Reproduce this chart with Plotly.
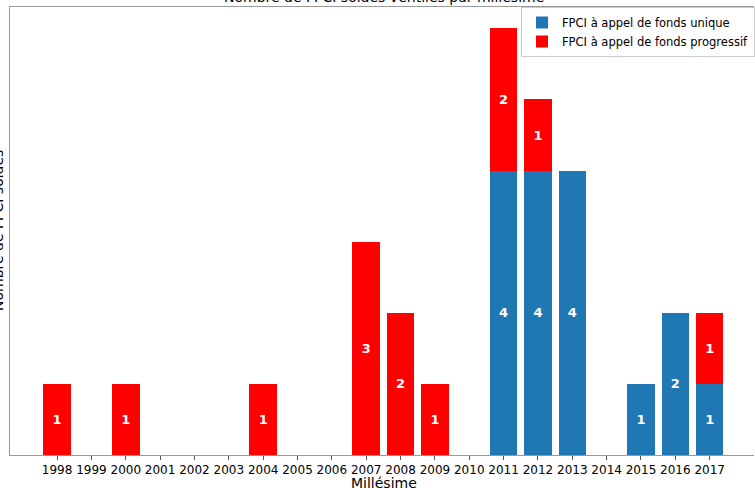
import plotly.graph_objects as go

years = list(range(1998, 2018))
unique = [0, 0, 0, 0, 0, 0, 0, 0, 0, 0, 0, 0, 0, 4, 4, 4, 0, 1, 2, 1]
progressif = [1, 0, 1, 0, 0, 0, 1, 0, 0, 3, 2, 1, 0, 2, 1, 0, 0, 0, 0, 1]
tick_labels = [str(y) for y in years]

FONT = "DejaVu Sans"

def labels(vals):
    return [str(v) if v > 0 else "" for v in vals]

fig = go.Figure()
fig.add_trace(go.Bar(
    x=years, y=unique, name="FPCI à appel de fonds unique",
    marker=dict(color="#1f77b4", line=dict(width=0)), width=0.8,
    text=labels(unique), textposition="inside", insidetextanchor="middle",
    textangle=0,
    textfont=dict(color="white", size=13, family=FONT, weight="bold"),
))
fig.add_trace(go.Bar(
    x=years, y=progressif, name="FPCI à appel de fonds progressif",
    marker=dict(color="#ff0000", line=dict(width=0)), width=0.8,
    text=labels(progressif), textposition="inside", insidetextanchor="middle",
    textangle=0,
    textfont=dict(color="white", size=13, family=FONT, weight="bold"),
))

fig.update_layout(
    width=755, height=488,
    barmode="stack",
    plot_bgcolor="white", paper_bgcolor="white",
    margin=dict(l=10, r=0, t=7, b=33),
    font=dict(family=FONT, size=12, color="black"),
    uniformtext=dict(minsize=13, mode="show"),
    legend=dict(
        x=0.687, y=1.0, xanchor="left", yanchor="top",
        traceorder="normal",
        bgcolor="white", bordercolor="#cccccc", borderwidth=1,
        font=dict(family=FONT, size=11.5),
    ),
    xaxis=dict(
        range=[1996.63, 2018.29],
        tickmode="array", tickvals=years, ticktext=tick_labels,
        ticks="outside", ticklen=4, tickcolor="#555555",
        showline=True, linecolor="#999999", linewidth=1, mirror=True,
        showgrid=False, zeroline=False,
        tickfont=dict(size=12),
    ),
    yaxis=dict(
        range=[0, 6.3],
        showticklabels=False, ticks="",
        showline=True, linecolor="#999999", linewidth=1,
        showgrid=False, zeroline=False,
    ),
    annotations=[
        dict(text="Nombre de FPCI soldés ventilés par millésime",
             xref="paper", yref="paper", x=0.503, y=1.0223,
             xanchor="center", yanchor="middle", showarrow=False,
             font=dict(size=14, family=FONT)),
        dict(text="Nombre de FPCI soldés",
             xref="paper", yref="paper", x=-0.0161, y=0.5,
             xanchor="center", yanchor="middle", showarrow=False,
             textangle=-90, font=dict(size=14, family=FONT)),
        dict(text="Millésime",
             xref="paper", yref="paper", x=0.503, y=-0.0625,
             xanchor="center", yanchor="middle", showarrow=False,
             font=dict(size=14, family=FONT)),
    ],
)

fig.write_html(
    "out.html",
    config={"displayModeBar": False},
    post_script="document.body.style.margin='0';document.body.style.overflow='hidden';",
)
